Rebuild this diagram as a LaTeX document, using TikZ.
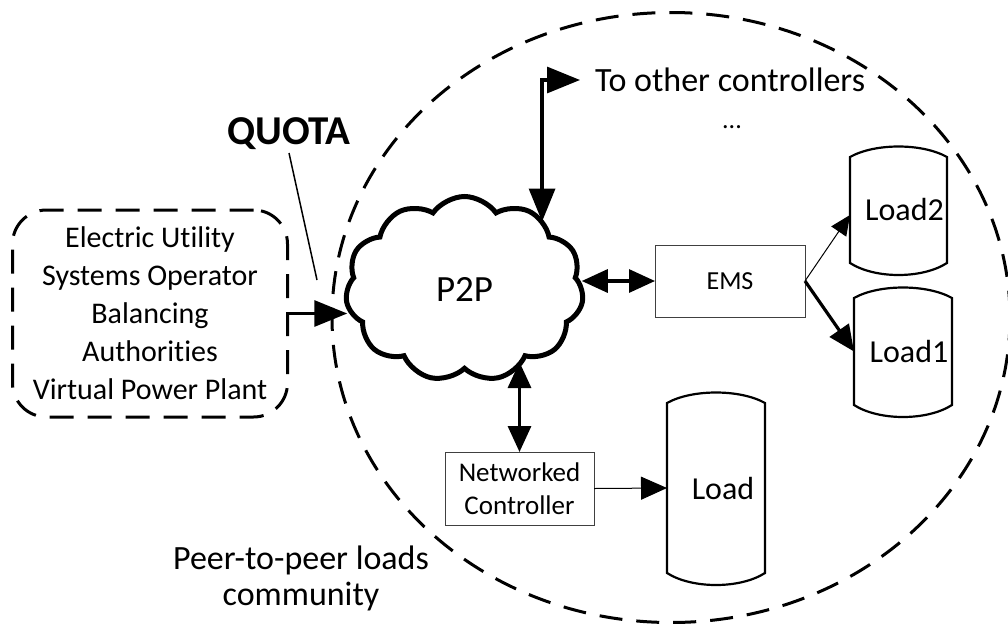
\documentclass[tikz,border=0pt]{standalone}
\usepackage{fontspec}
\setmainfont{Carlito}[Ligatures=NoCommon]
\usetikzlibrary{arrows.meta,shapes.symbols,calc}
\newcommand\setfs[2]{\fontsize{#1}{#2}\selectfont}

\begin{document}
\begin{tikzpicture}[x=1pt,y=-1pt,
  every node/.style={inner sep=0pt, outer sep=0pt},
  bigtip/.tip={Triangle[length=33pt,width=26pt]},
  midtip/.tip={Triangle[length=26pt,width=23pt]},
  smalltip/.tip={Triangle[length=20pt,width=18pt]},
  community/.style={draw, line width=3pt, dash pattern=on 23pt off 14pt},
  groupbox/.style={draw, line width=3pt, dash pattern=on 24pt off 14pt,
    rounded corners=34pt, minimum width=275pt, minimum height=207pt,
    align=center, font=\setfs{30}{38}},
  netcloud/.style={draw, cloud, cloud puffs=11, cloud puff arc=110, aspect=1.3,
    line width=5pt, minimum width=238pt, minimum height=185pt,
    font=\setfs{37}{40}},
  ctrlbox/.style={draw=black!75, line width=1pt, align=center},
  drum/.style={font=\setfs{32}{36}},
  drumline/.style={draw, line width=2.2pt},
  thick link/.style={line width=3.2pt},
  thin link/.style={line width=1pt},
  plain/.style={font=\setfs{34}{36}, align=center}
]
\useasboundingbox (0,0) rectangle (1008,627);

% community boundary
\draw[community] (671,317.5) ellipse [x radius=339, y radius=305];

% grid-side actors
\node[groupbox] (src) at (150,313.5)
  {Electric Utility\\Systems Operator\\Balancing\\Authorities\\Virtual Power Plant};

\node[font=\bfseries\setfs{41}{44}, inner sep=3pt] (quota) at (289,134) {QUOTA};
\coordinate (qend) at (317,280);

% peer-to-peer network
\node[netcloud] (cloud) at (464.5,289) {P2P};

\node[font=\setfs{34}{38}, anchor=west] (others) at (595,80) {To other controllers};
\node[font=\setfs{26}{30}] (dots) at (732,127) {...};

% controllers
\node[ctrlbox, minimum width=150pt, minimum height=72pt, font=\setfs{26}{30}] (ems) at (730,281) {EMS};
\node[ctrlbox, minimum width=149pt, minimum height=73pt, font=\setfs{27}{33}] (nc) at (519.5,488.5) {Networked\\Controller};

% loads
\node[drum, minimum width=97pt, minimum height=106pt] (load2) at (898.5,210) {\hspace*{12pt}Load2};
\node[drum, minimum width=98pt, minimum height=107pt] (load1) at (903,351.5) {\hspace*{12pt}Load1};
\node[drum, minimum width=98pt, minimum height=170pt] (load) at (716,488) {\hspace*{14pt}Load};
\foreach \n in {load2,load1,load}
  \draw[drumline] (\n.north west) .. controls +(25,-14) and +(-25,-14) .. (\n.north east)
    -- (\n.south east) .. controls +(-25,16) and +(25,16) .. (\n.south west) -- cycle;

\node[plain] (commlabel) at (301,578) {Peer-to-peer loads\\community};

% connectors
\draw[line width=1.5pt] (quota.south) -- (qend);
\draw[thick link, -bigtip] (src.east) -- (src.east -| cloud.west);
\draw[thick link, bigtip-bigtip] ($(others.west)+(-15,0)$) -| (cloud.41);
\draw[thick link, midtip-midtip] (cloud.east |- ems.west) -- (ems.west);
\draw[thick link, midtip-midtip] (nc.north) -- (nc.north |- cloud.308);
\draw[thin link, -smalltip] (ems.east) -- ($(load2.west)+(0,5)$);
\draw[thick link, -midtip] (ems.east) -- (load1.west);
\draw[thin link, -midtip] (nc.east) -- (load.west);
\end{tikzpicture}
\end{document}
